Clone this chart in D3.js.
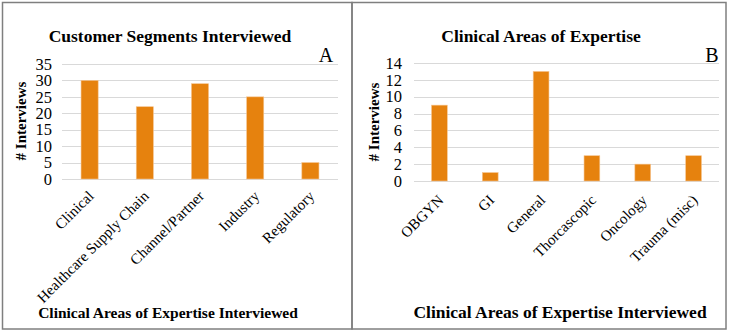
<!DOCTYPE html>
<html>
<head>
<meta charset="utf-8">
<script src="https://cdn.jsdelivr.net/npm/d3@7"></script>
<style>
  html, body { margin: 0; padding: 0; background: #fff; }
  svg { display: block; }
</style>
</head>
<body>
<svg id="chart" width="732" height="334"></svg>
<script>
// Panel A: customer segments
const segmentNames = ["Clinical", "Healthcare Supply Chain", "Channel/Partner", "Industry", "Regulatory"];
const segmentCounts = [30, 22, 29, 25, 5];
const segmentTicks = [0, 5, 10, 15, 20, 25, 30, 35];

// Panel B: clinical areas
const areaNames = ["OBGYN", "GI", "General", "Thorcascopic", "Oncology", "Trauma (misc)"];
const areaCounts = [9, 1, 13, 3, 2, 3];
const areaTicks = [0, 2, 4, 6, 8, 10, 12, 14];

const serif = "'Liberation Serif', 'Times New Roman', serif";
const svg = d3.select("#chart");
const barColor = "#E6820E";

// panel frames
svg.append("rect").attr("x", 2.5).attr("y", 2.5).attr("width", 349.5).attr("height", 326.5)
  .attr("fill", "none").attr("stroke", "#7f7f7f").attr("stroke-width", 1.5);
svg.append("rect").attr("x", 352).attr("y", 2.5).attr("width", 374).attr("height", 326.5)
  .attr("fill", "none").attr("stroke", "#7f7f7f").attr("stroke-width", 1.5);

function panel(cfg) {
  const g = svg.append("g");
  const x = d3.scaleBand().domain(cfg.names).range([cfg.x0, cfg.x1]).paddingInner(0.69).paddingOuter(0.345);
  const y = d3.scaleLinear().domain([0, cfg.max]).range([cfg.yBottom, cfg.yTop]);

  // gridlines
  g.append("g").selectAll("line").data(cfg.ticks).join("line")
    .attr("x1", cfg.x0).attr("x2", cfg.x1)
    .attr("y1", d => Math.round(y(d)) + 0.5).attr("y2", d => Math.round(y(d)) + 0.5)
    .attr("stroke", "#d9d9d9").attr("stroke-width", 1);

  // y-axis tick labels
  const yAxis = d3.axisLeft(y).tickValues(cfg.ticks).tickSize(0).tickPadding(0);
  const ya = g.append("g").attr("transform", `translate(${cfg.yLabelX},0)`).call(yAxis);
  ya.select(".domain").remove();
  ya.selectAll("text").style("font-family", serif).style("font-size", "16.5px").attr("fill", "#000");

  // bars
  g.append("g").selectAll("rect").data(cfg.values).join("rect")
    .attr("x", (d, i) => x(cfg.names[i]))
    .attr("width", x.bandwidth())
    .attr("y", d => y(d))
    .attr("height", d => y(0) - y(d))
    .attr("fill", barColor)
    .attr("stroke", "#f5c48f").attr("stroke-width", 0.6);

  // rotated category labels
  const xAxis = d3.axisBottom(x).tickSize(0).tickPadding(0);
  const xa = g.append("g").attr("transform", `translate(0,${cfg.yBottom})`).call(xAxis);
  xa.select(".domain").remove();
  xa.selectAll("text")
    .style("font-family", serif).style("font-size", "15px").attr("fill", "#000")
    .attr("text-anchor", "end").attr("dy", 0)
    .attr("transform", `translate(${cfg.labelDx},${cfg.labelDy}) rotate(-45)`);

  // titles
  const txt = sel => sel.style("font-family", serif).attr("fill", "#000");
  g.append("text").attr("x", cfg.titleX).attr("y", 42).attr("text-anchor", "middle")
    .call(txt).style("font-weight", "bold").style("font-size", "17.5px").text(cfg.title);
  g.append("text").attr("x", cfg.letterX).attr("y", 62).attr("text-anchor", "middle")
    .call(txt).style("font-size", "20px").text(cfg.letter);
  g.append("text").attr("transform", `translate(${cfg.yTitleX},${cfg.yTitleY}) rotate(-90)`)
    .attr("text-anchor", "middle").call(txt).style("font-weight", "bold").style("font-size", "15px").text("# Interviews");
  g.append("text").attr("x", cfg.xTitleX).attr("y", 318).attr("text-anchor", "middle")
    .call(txt).style("font-weight", "bold").style("font-size", cfg.xTitleSize + "px").text("Clinical Areas of Expertise Interviewed");
}

panel({
  names: segmentNames, values: segmentCounts, ticks: segmentTicks, max: 35,
  x0: 62, x1: 338, yTop: 64, yBottom: 179, yLabelX: 52, labelDx: 5, labelDy: 18,
  title: "Customer Segments Interviewed", titleX: 170, letter: "A", letterX: 326,
  yTitleX: 26, yTitleY: 121, xTitleX: 168, xTitleSize: 15.5
});

panel({
  names: areaNames, values: areaCounts, ticks: areaTicks, max: 14,
  x0: 414, x1: 719, yTop: 63, yBottom: 181, yLabelX: 402, labelDx: 5, labelDy: 20,
  title: "Clinical Areas of Expertise", titleX: 541, letter: "B", letterX: 712,
  yTitleX: 379, yTitleY: 122, xTitleX: 560, xTitleSize: 17.5
});
</script>
</body>
</html>
